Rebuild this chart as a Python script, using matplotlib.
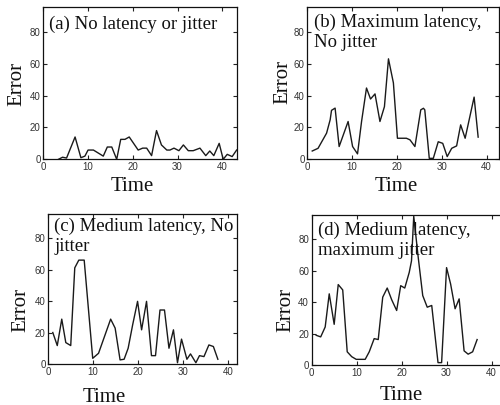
import matplotlib
matplotlib.use("Agg")
import matplotlib.pyplot as plt

# ---------------- data ----------------
a_t = [3.4, 4.3, 5.2, 7.1, 8.4, 9.3, 10.0, 11.2, 13.4, 14.3, 15.3, 16.4, 17.3, 18.25,
       19.2, 21.2, 22.2, 23.1, 24.2, 25.3, 26.4, 27.6, 28.3, 29.2, 30.3, 31.3, 32.4,
       33.5, 35.0, 36.3, 37.2, 38.1, 39.3, 40.2, 41.1, 42.2, 43.2]
a_err = [0, 1.3, 0.8, 14, 1, 2, 5.8, 5.8, 2, 7.7, 7.7, 0, 12.5, 12.5,
         14, 5.8, 7, 7, 2.3, 18, 9, 5.8, 5.8, 7, 5.4, 9, 5.4,
         5.4, 7, 2.3, 5.2, 2.3, 10, 0, 3.1, 1.7, 5.8]

b_t = [1.1, 2.4, 4.3, 5.1, 5.4, 6.2, 7.1, 9.1, 10.1, 11.2, 12.1, 13.2, 14.1, 15.1,
       16.2, 17.2, 18.1, 19.2, 20.1, 22.1, 22.9, 24.0, 25.3, 25.9, 26.2, 27.2, 28.1,
       29.2, 30.2, 31.2, 32.2, 33.3, 34.2, 35.2, 37.2, 38.1]
b_err = [5.2, 6.9, 16.4, 24.8, 30.7, 32.1, 8, 23.7, 8, 3.4, 23.7, 44.7, 37.8, 41,
         23.7, 33, 63, 47.9, 13.2, 13.2, 12.2, 8, 31, 32, 31, 0.6, 0.6,
         11, 10, 1.7, 6.9, 8.4, 21.6, 13.2, 39, 13.9]

c_t = [1.0, 2.0, 3.0, 3.9, 5.0, 5.9, 6.8, 8.0, 9.9, 11.2, 13.9, 14.9, 16.0, 16.9,
       17.8, 18.8, 19.9, 20.8, 21.9, 23.0, 23.9, 24.9, 25.9, 26.9, 27.9, 28.8, 29.7,
       30.9, 31.7, 32.9, 33.7, 34.7, 35.8, 36.8, 37.8]
c_err = [20.2, 11.9, 28.7, 13.8, 11.9, 61.3, 66.2, 66.2, 3.8, 7, 28.7, 23, 2.8, 3.2,
         10.2, 25, 40, 21.9, 40, 5.5, 5.5, 34.5, 34.5, 10.2, 21.9, 1, 16,
         3.2, 6.6, 1, 5.5, 4.9, 12.3, 11.3, 3.2]

d_t = [1.0, 2.0, 3.0, 3.9, 5.0, 5.9, 6.9, 7.9, 8.9, 9.9, 11.9, 12.8, 13.9, 14.8,
       15.8, 16.8, 17.8, 18.9, 19.8, 20.7, 21.7, 22.2, 22.7, 23.7, 24.7, 25.7, 26.7,
       28.1, 28.9, 30.0, 30.9, 31.9, 32.8, 33.9, 34.8, 35.8, 36.8]
d_err = [18.9, 17.9, 24.2, 45.3, 25.9, 51.2, 47.8, 8.4, 5.3, 3.6, 3.6, 8.4, 16.8, 16.2,
         43.2, 49, 41.5, 34.7, 50.5, 49, 59, 66.3, 94.7, 68.4, 44.2, 36.8, 37.9,
         1.5, 1.5, 62, 51.6, 35.8, 42.1, 9, 6.9, 8.4, 16.2]

titles = [["(a) No latency or jitter"],
          ["(b) Maximum latency,", "No jitter"],
          ["(c) Medium latency, No", "jitter"],
          ["(d) Medium latency,", "maximum jitter"]]
x_ticks = [0, 10, 20, 30, 40]
y_ticks = [0, 20, 40, 60, 80]
x_label = "Time"
y_label = "Error"

# ---------------- layout ----------------
W, H = 500, 405
fig = plt.figure(figsize=(W / 100, H / 100), dpi=100)
fig.patch.set_facecolor("white")

# (left, right, top, bottom) in pixels, xmax
panels = [
    (43.3, 237.3, 7, 159.3, 43.35),
    (307.3, 499.0, 7, 159.3, 42.75),
    (48.3, 236.7, 214, 364.3, 42.0),
    (311.7, 505.0, 215, 365.0, 43.0),
]
series = [(a_t, a_err), (b_t, b_err), (c_t, c_err), (d_t, d_err)]
title_pos = [  # x data, baseline y data of lines
    (1.25, [82]),
    (1.5, [83, 70.3]),
    (1.3, [84.7, 72.0]),
    (1.33, [82.6, 69.9]),
]
time_pos = [(132.5, 191.0), (396.0, 191.5), (104.0, 401.5), (401.0, 400.0)]
error_pos = [(17.0, 83.5), (282.5, 81.7), (20.8, 310.0), (285.8, 310.0)]

serif = "Liberation Serif"
sans = "Liberation Sans"

for i, ((l, r, t, b, xmax), (xs, ys)) in enumerate(zip(panels, series)):
    ax = fig.add_axes([l / W, 1 - b / H, (r - l) / W, (b - t) / H])
    ax.plot(xs, ys, color="#1a1a1a", lw=1.0)
    ax.set_xlim(0, xmax)
    ax.set_ylim(0, 95.5)
    ax.set_xticks(x_ticks)
    ax.set_yticks(y_ticks)
    ax.tick_params(direction="in", length=3, width=0.8, top=True, right=True,
                   labelsize=7, pad=2, labelcolor="#333333", color="#222222")
    for lab in ax.get_xticklabels() + ax.get_yticklabels():
        lab.set_fontfamily(sans)
    for s in ax.spines.values():
        s.set_linewidth(0.9)
        s.set_color("#111111")
    tx, tys = title_pos[i]
    for line, ty in zip(titles[i], tys):
        ax.text(tx, ty, line, fontsize=13.5, family=serif, ha="left",
                va="baseline", color="#111111")
    px, py = time_pos[i]
    fig.text(px / W, 1 - py / H, x_label, fontsize=15, family=serif,
             ha="center", va="baseline", color="#111111")
    ex, ey = error_pos[i]
    fig.text(ex / W, 1 - ey / H, y_label, fontsize=15, family=serif,
             ha="center", va="center", rotation=90, color="#111111")

fig.savefig("out.png", dpi=100, facecolor="white")
